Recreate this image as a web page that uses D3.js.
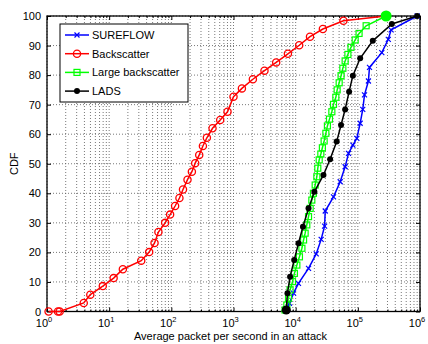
<!DOCTYPE html>
<html>
<head>
<meta charset="utf-8">
<script src="https://cdn.jsdelivr.net/npm/d3@7"></script>
<style>
  body { margin: 0; background: #fff; }
  text { font-family: "Liberation Sans", Arial, Helvetica, sans-serif; }
</style>
</head>
<body>
<div id="chart"></div>
<script>
// valeurs : [paquets/s, CDF %]
const sureflow = [
  [7380, 0.5], [7940, 2.8], [9230, 6.2], [11100, 9.5], [16100, 14.6], [21400, 19.5],
  [25700, 24.4], [29200, 28.9], [29900, 34], [40600, 38.8], [52000, 43.9], [62500, 49],
  [70800, 53.5], [83200, 56.3], [96400, 58.6], [109000, 63.7], [120000, 68.4],
  [128000, 73.3], [148000, 78], [154000, 82.6], [243000, 87.6], [309000, 92.1],
  [343000, 95.3], [900000, 100]
];
const backscatter = [
  [1.06, 0], [1.5, 0], [1.6, 0], [3.9, 2.9], [4.97, 5.7], [7.9, 8.6], [11.8, 11.3],
  [16.6, 14.3], [32.8, 17.2], [44, 20.1], [53.7, 23.2], [62, 26.9], [79.5, 30],
  [95.6, 32.8], [115, 35.7], [135, 38.4], [154, 41.3], [182, 44.6], [214, 47.3],
  [242, 50.2], [281, 53], [322, 56], [373, 58.8], [460, 62], [611, 64.8], [801, 67.6],
  [1000, 72.7], [1365, 75.5], [2050, 78.6], [3150, 81.5], [4860, 84.3], [7500, 87.2],
  [11400, 90.1], [17000, 93], [27400, 95.6], [58600, 98.4], [285000, 100]
];
const largeBackscatter = [
  [6760, 0.5], [7210, 2.2], [7670, 4.5], [8130, 7.3], [8890, 10.1], [9550, 12.9],
  [10450, 15.7], [11500, 18.5], [12600, 21.4], [13400, 24.2], [14200, 26.5],
  [15100, 29.3], [16100, 32.1], [17100, 34.9], [18200, 37.7], [19300, 40],
  [20600, 42.8], [21900, 45.6], [22700, 48.5], [23900, 51.3], [25400, 53.3],
  [26900, 55.4], [28700, 57.7], [30600, 60.3], [32400, 62.8], [35000, 65.1],
  [38200, 67.6], [40600, 70.1], [44300, 72.5], [46500, 75], [50100, 77.4],
  [53700, 79.8], [57400, 82.3], [62500, 84.8], [69200, 87], [77600, 89.4],
  [90600, 91.9], [104700, 94.1], [136000, 96.7], [285000, 100]
];
const lads = [
  [7050, 0.5], [7380, 6.2], [8130, 11.8], [9460, 17.4], [11100, 23.1], [13100, 28.7],
  [16100, 34.9], [20000, 40.5], [28000, 46.2], [35800, 51.5], [45700, 57.5],
  [53700, 63.1], [62500, 68.4], [72400, 74.4], [83200, 79.8], [109000, 85.7],
  [174000, 91.6], [352000, 97.3], [900000, 100]
];
const seriesNames = ['SUREFLOW', 'Backscatter', 'Large backscatter', 'LADS'];
const xTickExp = [0, 1, 2, 3, 4, 5, 6];
const yTicks = [0, 10, 20, 30, 40, 50, 60, 70, 80, 90, 100];

const margin = { top: 16, right: 8, bottom: 32.5, left: 47 };
const width = 428 - margin.left - margin.right;
const height = 344 - margin.top - margin.bottom;

const svg = d3.select('#chart').append('svg')
  .attr('width', 428).attr('height', 344)
  .append('g')
  .attr('transform', `translate(${margin.left},${margin.top})`);

const x = d3.scaleLog().domain([1, 1e6]).range([0, width]);
const y = d3.scaleLinear().domain([0, 100]).range([height, 0]);

// valeurs des graduations mineures (2..9 par décade)
const minor = [];
xTickExp.slice(0, -1).forEach(e => {
  for (let k = 2; k <= 9; k++) minor.push(k * Math.pow(10, e));
});
const major = xTickExp.map(e => Math.pow(10, e));

// grille pointillée
const grid = svg.append('g').attr('stroke', '#555').attr('stroke-width', 0.8)
  .attr('stroke-dasharray', '1,2');
major.concat(minor).forEach(v => {
  grid.append('line').attr('x1', x(v)).attr('x2', x(v)).attr('y1', 0).attr('y2', height);
});
yTicks.forEach(v => {
  grid.append('line').attr('x1', 0).attr('x2', width).attr('y1', y(v)).attr('y2', y(v));
});

// axes (graduations vers l'intérieur, sur les 4 côtés)
const axBottom = svg.append('g').attr('transform', `translate(0,${height})`)
  .call(d3.axisBottom(x).tickValues(major).tickSizeInner(-4).tickSizeOuter(0).tickFormat(''));
const axBottomMinor = svg.append('g').attr('transform', `translate(0,${height})`)
  .call(d3.axisBottom(x).tickValues(minor).tickSizeInner(-2).tickSizeOuter(0).tickFormat(''));
const axTop = svg.append('g')
  .call(d3.axisTop(x).tickValues(major).tickSizeInner(-4).tickSizeOuter(0).tickFormat(''));
const axTopMinor = svg.append('g')
  .call(d3.axisTop(x).tickValues(minor).tickSizeInner(-2).tickSizeOuter(0).tickFormat(''));
const axLeft = svg.append('g')
  .call(d3.axisLeft(y).tickValues(yTicks).tickSizeInner(-4).tickSizeOuter(0).tickPadding(6));
const axRight = svg.append('g').attr('transform', `translate(${width},0)`)
  .call(d3.axisRight(y).tickValues(yTicks).tickSizeInner(-4).tickSizeOuter(0).tickFormat(''));

[axBottom, axBottomMinor, axTop, axTopMinor, axLeft, axRight].forEach(g => {
  g.select('.domain').remove();
  g.selectAll('line').attr('stroke', '#000');
});
axLeft.selectAll('text').style('font-size', '11px').attr('fill', '#000')
  .attr('font-family', '"Liberation Sans", Arial, sans-serif');

// libellés 10^n
const xl = svg.append('g').attr('transform', `translate(0,${height})`);
xTickExp.forEach(e => {
  const t = xl.append('text').attr('x', x(Math.pow(10, e)) - 3).attr('y', 15.5)
    .attr('text-anchor', 'middle').style('font-size', '11px');
  t.append('tspan').text('10');
  t.append('tspan').attr('dy', -5).style('font-size', '7.5px').text(e);
});

// cadre
svg.append('rect').attr('width', width).attr('height', height)
  .attr('fill', 'none').attr('stroke', '#000').attr('stroke-width', 1.3);

svg.append('text').attr('x', width / 2 - 3).attr('y', height + 28)
  .attr('text-anchor', 'middle').style('font-size', '11px')
  .text('Average packet per second in an attack');
svg.append('text').attr('transform', `translate(${-29},${height / 2}) rotate(-90)`)
  .attr('text-anchor', 'middle').style('font-size', '11px').text('CDF');

const line = d3.line().x(d => x(d[0])).y(d => y(d[1]));
const plot = svg.append('g');

function drawMarker(g, type, color, px, py) {
  if (type === 'x') {
    g.append('path').attr('d', `M${px - 2.5},${py - 2.5}L${px + 2.5},${py + 2.5}M${px - 2.5},${py + 2.5}L${px + 2.5},${py - 2.5}`)
      .attr('stroke', color).attr('stroke-width', 1.2);
  } else if (type === 'o') {
    g.append('circle').attr('cx', px).attr('cy', py).attr('r', 3.6)
      .attr('fill', 'none').attr('stroke', color).attr('stroke-width', 1.3);
  } else if (type === 's') {
    g.append('rect').attr('x', px - 3).attr('y', py - 3).attr('width', 6).attr('height', 6)
      .attr('fill', 'none').attr('stroke', color).attr('stroke-width', 1.2);
  } else {
    g.append('circle').attr('cx', px).attr('cy', py).attr('r', 3)
      .attr('fill', color);
  }
}

const series = [
  { name: seriesNames[0], data: sureflow, color: '#0000ff', marker: 'x' },
  { name: seriesNames[1], data: backscatter, color: '#ff0000', marker: 'o' },
  { name: seriesNames[2], data: largeBackscatter, color: '#00ff00', marker: 's' },
  { name: seriesNames[3], data: lads, color: '#000000', marker: '*' }
];

series.forEach(s => {
  const g = plot.append('g');
  g.append('path').datum(s.data).attr('d', line)
    .attr('fill', 'none').attr('stroke', s.color).attr('stroke-width', 1.5);
  s.data.forEach(d => drawMarker(g, s.marker, s.color, x(d[0]), y(d[1])));
});

// points superposés en haut (vert) et en bas (noir)
const lastGreen = largeBackscatter[largeBackscatter.length - 1];
plot.append('circle').attr('cx', x(lastGreen[0])).attr('cy', y(lastGreen[1])).attr('r', 5.5)
  .attr('fill', '#00ff00');
plot.append('circle').attr('cx', x(lads[0][0])).attr('cy', y(lads[0][1])).attr('r', 4.5)
  .attr('fill', '#000');

// légende
const legend = svg.append('g').attr('transform', 'translate(13,8)');
legend.append('rect').attr('width', 128).attr('height', 78)
  .attr('fill', '#fff').attr('stroke', '#000').attr('stroke-width', 1);
series.forEach((s, i) => {
  const ly = 11 + i * 18.7;
  legend.append('line').attr('x1', 5).attr('x2', 29).attr('y1', ly).attr('y2', ly)
    .attr('stroke', s.color).attr('stroke-width', 1.5);
  drawMarker(legend, s.marker, s.color, 17, ly);
  legend.append('text').attr('x', 32).attr('y', ly + 4).style('font-size', '11px').text(s.name);
});
</script>
</body>
</html>
